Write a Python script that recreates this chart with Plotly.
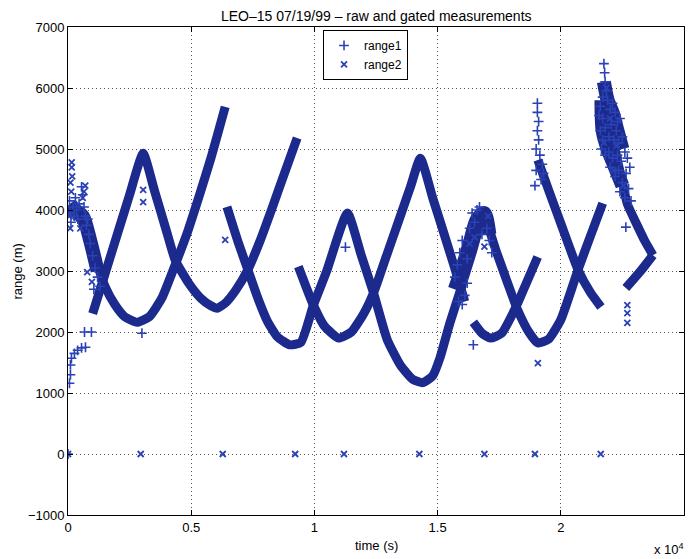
import plotly.graph_objects as go

# ---------------- data (time in s, range in m) ----------------
# dense tracks (drawn as thick bands)
p_time = [100, 500, 900, 1200, 1500, 1900, 2300, 2800, 3300, 3800, 4300, 4800, 5300, 5800, 6380]
p_range = [4000, 3850, 3550, 3100, 2750, 2450, 2250, 2160, 2250, 2550, 3050, 3580, 4200, 4850, 5690]

q_time = [1000, 1500, 2000, 2500, 3050, 3500, 4000, 4350, 4900, 5400, 5800, 6060, 6400, 6800, 7300, 7800, 8300, 8800, 9300]
q_range = [2300, 2950, 3600, 4250, 4930, 4330, 3650, 3180, 2800, 2550, 2430, 2390, 2480, 2680, 3020, 3500, 4050, 4620, 5180]

r_time = [6450, 6900, 7300, 7700, 8100, 8500, 9000, 9450, 9960, 10500, 11340, 11900, 12400, 12950, 13500,
          14000, 14400, 14800, 15100, 15500, 15930, 16400, 16870, 17400, 17800, 18250, 18700, 19070,
          19500, 20000, 20700, 21200, 21700]
r_range = [4050, 3480, 3020, 2560, 2170, 1920, 1790, 1830, 2440, 3000, 3950, 3260, 2640, 1880, 1450,
           1220, 1170, 1280, 1580, 2150, 2690, 3300, 3890, 3300, 2850, 2360, 2000, 1820,
           1880, 2200, 3020, 3570, 4110]

s_time = [9350, 9700, 9960, 10400, 10980, 11500, 12000, 12400, 12900, 13400, 13900, 14300, 14800, 15300, 15930, 16100]
s_range = [3070, 2700, 2440, 2100, 1900, 2000, 2300, 2640, 3220, 3800, 4380, 4850, 4200, 3560, 2740, 2500]

t_time = [16450, 16800, 17150, 17600, 18170, 18600, 19060]
t_range = [2160, 1980, 1900, 1980, 2400, 2800, 3230]

u_time = [19070, 19500, 20000, 20700, 21200, 21630]
u_range = [4820, 4330, 3780, 3020, 2650, 2410]

v_time = [21800, 22000, 22200, 22450, 22700, 23100, 23400, 23740]
v_range = [6000, 5500, 5000, 4550, 4100, 3750, 3500, 3260]

w_time = [23740, 23200, 22640]
w_range = [3260, 2980, 2720]

# noisy dense clusters (drawn as wider bands)
c1_time = [80, 300, 600, 900, 1200]
c1_range = [4100, 4000, 3900, 3500, 3000]
c2_time = [15700, 16000, 16300, 16600, 16900, 17100]
c2_range = [2700, 3050, 3450, 3850, 3950, 3600]
c3_time = [21650, 21700, 21900, 22100, 22300, 22500]
c3_range = [5800, 5300, 5000, 4800, 4600, 4400]
c4_time = [21750, 21900, 22100, 22300, 22500]
c4_range = [6100, 5800, 5600, 5300, 5000]

# sparse range1 samples ('+')
r1_time = [0, 60, 100, 100, 140, 260, 390, 550, 710, 670, 950,
           60, 80, 120, 200, 250, 300, 350, 400, 450, 550, 600, 650, 700, 750, 800, 850, 900, 1000, 1100, 1200, 1300, 1050,
           3000, 11260, 16450,
           19050, 19050, 19100, 19050, 19100, 19000, 19150, 19000, 19200, 18950, 19250, 19300,
           15700, 15800, 15900, 16000, 16100, 16200, 16300, 16400, 16500, 16600, 16700, 16800, 17000, 17100, 17200, 16200, 16000, 15850,
           21750, 21780, 21800, 21850, 21700, 21600, 21550, 21700, 21900, 22000, 22100, 22200, 22300, 22400,
           21600, 21700, 21800, 21950, 22050, 22150, 22250, 22350, 22500, 21650, 21800, 21950, 22100, 22300,
           22450, 22600, 22700, 22000, 22200, 22350, 22500, 22650, 22800, 22400, 22600, 22750, 22850, 22640]
r1_range = [0, 1160, 1300, 1460, 1570, 1650, 1700, 1740, 1750, 2000, 2000,
            4150, 3950, 3800, 4050, 3900, 4200, 4000, 3850, 4100, 4380, 4250, 4050, 3900, 3750, 3850, 3600, 3450, 3250, 3050, 2900, 2750, 2700,
            1980, 3390, 1790,
            5750, 5600, 5450, 5300, 5150, 5000, 4900, 4650, 4500, 4400, 4750, 4600,
            2900, 3100, 3300, 3500, 2600, 2800, 3700, 3950, 3800, 4000, 4050, 3600, 3700, 3500, 3300, 3200, 2450, 2500,
            6400, 6250, 6100, 5950, 5850, 5700, 5550, 5500, 5800, 5650, 5750, 5600, 5450, 5500,
            5300, 5150, 5350, 5200, 5400, 5150, 5300, 5100, 5200, 5000, 4900, 4950, 4850, 4900,
            4800, 4950, 4850, 4700, 4550, 4650, 4450, 4600, 4700, 4300, 4200, 4350, 4150, 3720]

# sparse range2 samples ('x'), including the zero-range (gated) samples
r2_time = [0, 2950, 6280, 9220, 11200, 14260, 16900, 18950, 21620,
           150, 150, 170, 100, 130, 90, 60, 700, 650, 600, 780, 970, 500,
           3050, 3050, 6380, 19070, 22700, 22700, 22700,
           16300, 16500, 16900, 17050,
           21850, 22000, 21750, 22250, 22150, 22550]
r2_range = [0, 0, 0, 0, 0, 0, 0, 0, 0,
            4780, 4700, 4550, 4450, 4300, 3700, 3900, 4400, 4300, 4200, 2980, 2820, 3700,
            4330, 4130, 3510, 1490, 2440, 2310, 2150,
            3450, 3550, 3400, 3900,
            6000, 5500, 5100, 5050, 4650, 4400]

x_tickvals = [0, 5000, 10000, 15000, 20000, 25000]
x_ticktext = ["0", "0.5", "1", "1.5", "2", "2.5"]
y_tickvals = [-1000, 0, 1000, 2000, 3000, 4000, 5000, 6000, 7000]

# ---------------- figure ----------------
BAND = "#1b2a8c"
MK = "#2a42b4"
FONT = "Liberation Sans, Arial, Helvetica, sans-serif"

tracks = [(p_time, p_range), (q_time, q_range), (r_time, r_range), (s_time, s_range),
          (t_time, t_range), (u_time, u_range), (v_time, v_range), (w_time, w_range)]
clusters = [(c1_time, c1_range), (c2_time, c2_range), (c3_time, c3_range), (c4_time, c4_range)]

fig = go.Figure()
for tt, rr in clusters:
    fig.add_trace(go.Scatter(x=tt, y=rr, mode="lines", line=dict(color=BAND, width=14, shape="spline", smoothing=0.8),
                             showlegend=False, hoverinfo="skip"))
for tt, rr in tracks:
    fig.add_trace(go.Scatter(x=tt, y=rr, mode="lines", line=dict(color=BAND, width=9, shape="spline", smoothing=0.5),
                             showlegend=False, hoverinfo="skip"))

fig.add_trace(go.Scatter(x=r1_time, y=r1_range, mode="markers", name="range1",
                         marker=dict(symbol="cross-thin", size=7, color=MK,
                                     line=dict(color=MK, width=1.6))))
fig.add_trace(go.Scatter(x=r2_time, y=r2_range, mode="markers", name="range2",
                         marker=dict(symbol="x-thin", size=6, color=MK,
                                     line=dict(color=MK, width=1.8))))

axis_common = dict(showline=True, linecolor="black", linewidth=1, mirror="ticks",
                   ticks="inside", ticklen=5, tickcolor="black", tickwidth=1,
                   showgrid=True, gridcolor="#555555", gridwidth=1, griddash="1px,3px",
                   zeroline=False, tickfont=dict(family=FONT, size=13, color="black"))

fig.update_layout(
    width=693, height=559,
    margin=dict(l=68, r=9, t=27, b=44),
    paper_bgcolor="white", plot_bgcolor="white",
    font=dict(family=FONT, size=13, color="black"),
    xaxis=dict(range=[0, 25000], tickvals=x_tickvals, ticktext=x_ticktext, **axis_common),
    yaxis=dict(range=[-1000, 7000], tickvals=y_tickvals, **axis_common),
    legend=dict(x=0.414, y=0.994, xanchor="left", yanchor="top",
                bgcolor="white", bordercolor="black", borderwidth=1,
                font=dict(family=FONT, size=12, color="black"),
                itemwidth=30, tracegroupgap=0),
    annotations=[
        dict(text="LEO–15 07/19/99 – raw and gated measurements", xref="paper", yref="paper",
             x=0.5, y=1.0225, xanchor="center", yanchor="middle", showarrow=False,
             font=dict(family=FONT, size=14, color="black")),
        dict(text="time (s)", xref="paper", yref="paper", x=0.5, y=-0.0615,
             xanchor="center", yanchor="middle", showarrow=False,
             font=dict(family=FONT, size=13, color="black")),
        dict(text="range (m)", xref="paper", yref="paper", x=-0.082, y=0.5, textangle=-90,
             xanchor="center", yanchor="middle", showarrow=False,
             font=dict(family=FONT, size=13, color="black")),
        dict(text="x 10<sup>4</sup>", xref="paper", yref="paper", x=0.976, y=-0.0697,
             xanchor="center", yanchor="middle", showarrow=False,
             font=dict(family=FONT, size=13, color="black")),
    ],
)

fig.write_html("out.html")
